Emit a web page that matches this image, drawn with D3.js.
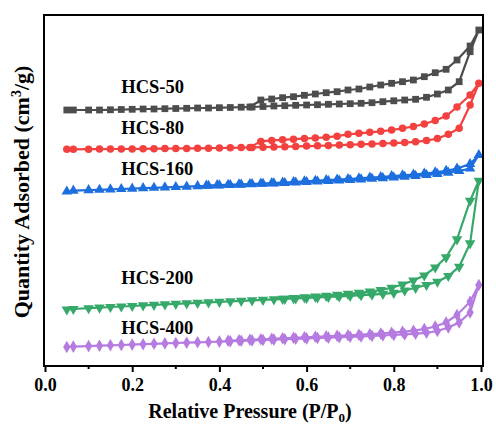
<!DOCTYPE html>
<html>
<head>
<meta charset="utf-8">
<script src="https://cdn.jsdelivr.net/npm/d3@7"></script>
<style>
  body { margin: 0; background: #fff; }
  text { font-family: "Liberation Serif", "Times New Roman", serif; font-weight: bold; }
</style>
</head>
<body>
<script>
// relative pressure points (adsorption branch, then desorption branch)
const adsP = [0.05, 0.065, 0.1, 0.125, 0.15, 0.175, 0.2, 0.225, 0.25, 0.275, 0.3, 0.325, 0.35, 0.375,
  0.4, 0.425, 0.45, 0.475, 0.5, 0.525, 0.55, 0.575, 0.6, 0.625, 0.65, 0.675, 0.7, 0.725, 0.75,
  0.775, 0.8, 0.825, 0.85, 0.875, 0.9, 0.925, 0.95, 0.975, 0.995];
const desP = [0.975, 0.945, 0.92, 0.895, 0.87, 0.845, 0.82, 0.795, 0.77, 0.745, 0.72, 0.695, 0.67,
  0.645, 0.62, 0.595, 0.57, 0.545, 0.52, 0.495, 0.47, 0.445, 0.42, 0.395, 0.37];

// quantity adsorbed (curves offset, arbitrary units)
const hcs50Ads = [256, 256, 256, 256, 256.2, 256.5, 256.7, 257, 257, 257.3, 257.5, 257.7, 258, 258,
  258.3, 258.5, 258.8, 259, 259.5, 260, 260.3, 260.7, 261, 261.3, 261.7, 262, 262.3, 262.7, 263.3,
  264.3, 265.2, 266, 266.7, 268.7, 272, 276, 284.3, 314.3, 336];
const hcs50Des = [320, 306, 296.7, 293.3, 289.3, 286, 284.3, 282.7, 281, 279, 277, 276, 274.3, 273.3,
  272, 270.7, 269.3, 268.3, 267, 266, 259];

const hcs80Ads = [216.7, 216.7, 216.8, 216.9, 217, 217, 217.1, 217.2, 217.3, 217.4, 217.5, 217.6, 217.7,
  217.8, 218, 218.2, 218.4, 218.6, 218.8, 219, 219.3, 219.6, 219.9, 220.2, 220.5, 220.9, 221.3, 221.7,
  222.1, 222.5, 222.9, 223.4, 224.2, 225.4, 227.5, 231.7, 237.7, 261, 282.7];
const hcs80Des = [271, 259, 250, 245.5, 242, 239.5, 237.7, 236, 234.7, 233.7, 232.7, 231.7, 229.8,
  228.7, 228, 227.4, 226.8, 226.2, 225.6, 224.6, 218.6];

const hcs160Ads = [174.5, 175.3, 175.8, 176.2, 176.6, 177, 177.4, 177.8, 178.2, 178.6, 179, 179.4, 179.8,
  180.2, 180.6, 181, 181.4, 181.8, 182.2, 182.6, 183, 183.5, 184, 184.5, 185, 185.5, 186, 186.6, 187.2,
  187.8, 188.5, 189.2, 190, 191, 192, 193.3, 195, 197.5, 211];
const hcs160Des = [202, 197.5, 195.2, 193.7, 192.5, 191.5, 190.6, 189.8, 189, 188.3, 187.6, 187, 186.4,
  185.8, 185.2, 184.6, 184, 183.4, 182.9, 182.4, 182, 181.6, 181.2, 180.8, 180.4];

const hcs200Ads = [56.5, 57, 57.8, 58.4, 59, 59.5, 60, 60.6, 61.1, 61.6, 62.1, 62.6, 63.1, 63.6, 64.1,
  64.6, 65.1, 65.6, 66.1, 66.6, 67.1, 67.6, 68.1, 68.6, 69.1, 69.6, 70.2, 70.8, 71.4, 72.2, 73.2, 75.5,
  78.2, 81, 84.3, 90, 99.3, 122.7, 185.3];
const hcs200Des = [165.3, 126.7, 108.7, 98.5, 90.5, 85.5, 81.5, 78.2, 76, 74.4, 73.2, 72.1, 71.1, 70.2,
  69.4, 68.6, 67.9, 67.2];

const hcs400Ads = [19, 19.4, 19.9, 20.3, 20.7, 21, 21.4, 21.8, 22.2, 22.6, 23, 23.3, 23.7, 24, 24.4,
  24.8, 25.2, 25.6, 26, 26.4, 26.8, 27.2, 27.6, 28, 28.4, 28.8, 29.2, 29.6, 30, 30.5, 31, 31.6, 32.3,
  33.2, 35, 38.5, 43.5, 53.5, 81];
const hcs400Des = [64.3, 51, 43.5, 39.5, 37, 35.3, 34.2, 33.3, 32.5, 31.8, 31.2, 30.7, 30.2, 29.7, 29.2,
  28.7, 28.2, 27.7, 27.2, 26.7, 26.2, 25.7, 25.2];

const seriesNames = ["HCS-50", "HCS-80", "HCS-160", "HCS-200", "HCS-400"];
const xTicks = [0, 0.2, 0.4, 0.6, 0.8, 1.0];

const series = [
  { name: "HCS-50", ads: hcs50Ads, des: hcs50Des, color: "#4d4d4d", shape: "square", label: [0.175, 273] },
  { name: "HCS-80", ads: hcs80Ads, des: hcs80Des, color: "#f2413f", shape: "circle", label: [0.175, 232] },
  { name: "HCS-160", ads: hcs160Ads, des: hcs160Des, color: "#1e6fde", shape: "up", label: [0.175, 191] },
  { name: "HCS-200", ads: hcs200Ads, des: hcs200Des, color: "#36a96a", shape: "down", label: [0.175, 82] },
  { name: "HCS-400", ads: hcs400Ads, des: hcs400Des, color: "#b57be0", shape: "diamond", label: [0.175, 32] }
];

const W = 496, H = 437;
const margin = { top: 15, right: 13, bottom: 71, left: 44 };

const svg = d3.select("body").append("svg")
  .attr("width", W)
  .attr("height", H);

const x = d3.scaleLinear()
  .domain([-0.0023, 1.0046])
  .range([margin.left, W - margin.right]);

const y = d3.scaleLinear()
  .domain([0, 351])
  .range([H - margin.bottom, margin.top]);

const symbols = {
  square: d3.symbol().type(d3.symbolSquare).size(46),
  circle: d3.symbol().type(d3.symbolCircle).size(44),
  up: d3.symbol().type(d3.symbolTriangle).size(48),
  down: d3.symbol().type(d3.symbolTriangle).size(48),
  diamond: d3.symbol().type(d3.symbolDiamond).size(46)
};

const line = d3.line()
  .x(d => x(d[0]))
  .y(d => y(d[1]));

series.forEach(s => {
  const pts = s.ads.map((v, i) => [adsP[i], v])
    .concat(s.des.map((v, i) => [desP[i], v]));

  const g = svg.append("g");
  g.append("path")
    .datum(pts)
    .attr("d", line)
    .attr("fill", "none")
    .attr("stroke", s.color)
    .attr("stroke-width", 2.2);

  g.selectAll("path.mk")
    .data(pts)
    .join("path")
    .attr("class", "mk")
    .attr("d", symbols[s.shape])
    .attr("transform", d => `translate(${x(d[0])},${y(d[1])})` + (s.shape === "down" ? " rotate(180)" : ""))
    .attr("fill", s.color);

  svg.append("text")
    .attr("x", x(s.label[0]))
    .attr("y", y(s.label[1]))
    .attr("font-size", 18.5)
    .attr("fill", "#000")
    .text(s.name);
});

// frame
svg.append("rect")
  .attr("x", margin.left)
  .attr("y", margin.top)
  .attr("width", W - margin.left - margin.right)
  .attr("height", H - margin.top - margin.bottom)
  .attr("fill", "none")
  .attr("stroke", "#000")
  .attr("stroke-width", 2);

// x axis: major ticks with labels, minor ticks between
const xAxis = svg.append("g")
  .attr("transform", `translate(0,${H - margin.bottom})`)
  .call(d3.axisBottom(x).tickValues(xTicks).tickFormat(d3.format(".1f")).tickSize(6).tickPadding(6));
xAxis.select(".domain").remove();
xAxis.selectAll(".tick line").attr("stroke-width", 2);
xAxis.selectAll(".tick text")
  .attr("font-size", 18)
  .attr("font-family", "Liberation Serif, serif")
  .attr("font-weight", "bold")
  .attr("fill", "#000");

const minorTicks = [0.1, 0.3, 0.5, 0.7, 0.9];
svg.append("g").selectAll("line")
  .data(minorTicks)
  .join("line")
  .attr("x1", d => x(d)).attr("x2", d => x(d))
  .attr("y1", H - margin.bottom).attr("y2", H - margin.bottom + 3)
  .attr("stroke", "#000")
  .attr("stroke-width", 2);

// axis titles
const xt = svg.append("text")
  .attr("x", 250)
  .attr("y", 418)
  .attr("text-anchor", "middle")
  .attr("font-size", 20);
xt.append("tspan").text("Relative Pressure (P/P");
xt.append("tspan").attr("font-size", 13).attr("dy", 4).text("0");
xt.append("tspan").attr("dy", -4).text(")");

const yt = svg.append("text")
  .attr("transform", "translate(29,192) rotate(-90)")
  .attr("text-anchor", "middle")
  .attr("font-size", 22);
yt.append("tspan").text("Quantity Adsorbed (cm");
yt.append("tspan").attr("font-size", 14).attr("dy", -8).text("3");
yt.append("tspan").attr("dy", 8).text("/g)");
</script>
</body>
</html>
